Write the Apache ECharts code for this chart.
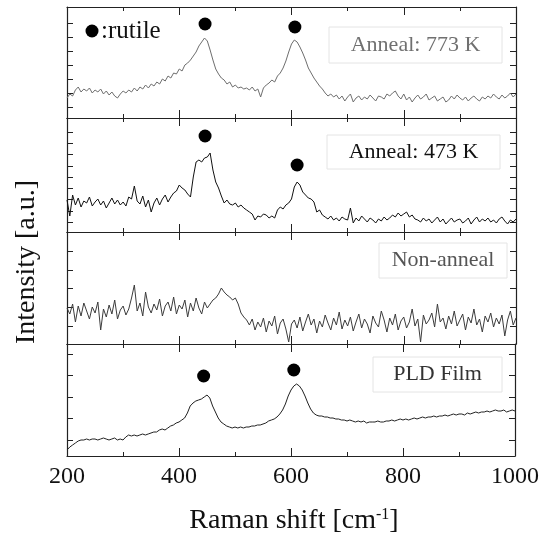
<!DOCTYPE html>
<html><head><meta charset="utf-8">
<script src="https://cdn.jsdelivr.net/npm/echarts@6/dist/echarts.min.js"></script>
<style>html,body{margin:0;padding:0;background:#fff}#c{width:542px;height:535px}</style>
</head><body><div id="c"></div>
<script>
// Raman shift grid (cm-1), sampled every 5 cm-1 from 200 to 1000
const wavenumbers = [];
for (let w = 200; w <= 1000; w += 5) wavenumbers.push(w);

// Intensities (a.u.), one value per wavenumber
const anneal773 = [
 20,24,22,28,31,26,29,27,30,25, 28,26,29,24,27,23,26,22,20,24,
 27,25,28,26,30,27,31,29,33,30, 34,32,36,34,39,37,42,40,45,44,
 49,47,53,55,58,62,66,72,76,80, 77,68,58,49,44,40,38,34,36,31,
 33,30,31,29,30,28,31,27,29,21, 30,33,35,38,36,42,45,50,57,66,
 74,78,76,71,65,58,50,45,40,36, 32,29,25,22,24,21,23,19,22,17,
 21,24,16,20,22,18,21,19,23,20, 17,22,21,19,24,22,25,27,22,19,
 24,18,21,16,20,23,19,21,24,18, 20,22,17,19,21,16,18,22,19,23,
 20,18,21,17,20,22,19,17,21,19, 22,20,24,21,19,23,20,22,25,21,
 24];
const anneal473 = [
 32,16,37,27,34,25,31,29,35,26, 30,33,27,31,24,29,34,28,32,27,
 30,26,35,33,46,31,28,36,25,32, 20,29,34,27,33,37,30,35,39,41,
 47,44,42,38,35,55,70,72,70,74, 75,79,62,50,44,36,29,32,28,27,
 29,25,27,24,22,20,18,12,16,15, 18,17,14,16,14,22,25,23,27,29,
 33,45,50,47,40,37,34,33,30,20, 22,17,15,13,16,12,14,11,15,13,
 12,24,9,14,11,16,13,10,14,12, 9,13,11,15,12,14,17,15,19,16,
 18,20,15,17,13,12,10,14,11,13, 9,12,15,10,13,8,11,14,10,12,
 13,9,11,14,8,12,15,10,13,11, 14,10,12,9,13,15,11,8,12,10,
 13];
const nonAnneal = [
 36,30,40,22,38,28,41,33,25,37, 31,42,14,35,27,39,30,44,25,34,
 38,29,35,46,59,33,41,28,52,37, 31,40,34,45,28,38,42,33,47,30,
 39,35,44,27,41,33,46,36,30,42, 36,40,44,46,50,56,52,49,47,44,
 46,40,31,27,24,19,25,14,22,17, 26,12,23,18,28,10,21,25,15,2,
 20,24,16,27,13,22,30,19,25,11, 23,17,29,21,14,26,19,32,15,24,
 18,27,13,22,30,16,25,20,11,28, 21,17,33,24,12,26,19,30,14,23,
 27,16,22,35,18,25,2,29,20,24, 31,17,40,22,26,15,28,20,33,18,
 24,30,14,27,21,35,19,25,12,28, 22,31,17,26,20,29,8,24,33,19,
 26];
const pldFilm = [
 6,9,11,13,15,16,16,17,16,17, 17,16,17,18,17,16,17,18,16,17,
 16,19,21,20,21,20,21,22,21,22, 23,24,24,26,27,26,28,30,31,33,
 34,36,38,43,50,53,55,56,57,59, 61,58,50,44,38,34,32,30,29,28,
 29,28,29,28,29,29,30,30,31,31, 32,33,35,36,37,39,42,46,52,60,
 66,70,72,70,66,60,53,47,43,41, 40,40,39,39,38,38,37,37,36,36,
 35,36,35,34,35,34,35,33,34,34, 34,35,34,34,35,35,36,35,36,37,
 36,37,36,37,38,37,38,39,38,39, 39,40,39,40,40,41,40,41,42,41,
 42,42,41,43,42,43,44,43,44,44, 45,44,45,46,45,45,46,44,45,46,
 45];

// rutile peak markers (wavenumber, intensity) per panel
const rutileX773 = [446, 606], rutileY773 = [94, 91];
const rutileX473 = [446, 610], rutileY473 = [96, 67];
const rutileXPLD = [444, 605], rutileYPLD = [80, 86];

// panel names and tick labels
const panelNames = ['Anneal: 773 K', 'Anneal: 473 K', 'Non-anneal', 'PLD Film'];
const xTickLabels = [200, 400, 600, 800, 1000];
// y tick positions (a.u.) per panel
const yTicks773 = [11, 25, 39, 53, 67, 81, 95];
const yTicks473 = [10, 21.25, 32.5, 43.75, 55, 66.25, 77.5, 88.75, 100];
const yTicksNon = [18, 37, 56, 74, 93];
const yTicksPLD = [16, 37.5, 59, 80.5, 102];

// ---- layout / style ----
const tops = [7, 118, 232, 344];
const heights = [111, 114, 112, 112];
const yMax = [111, 114, 112, 112];
const seriesData = [anneal773, anneal473, nonAnneal, pldFilm];
const lineColors = ['#6e6e6e', '#111111', '#3c3c3c', '#222222'];
const yTicksAll = [yTicks773, yTicks473, yTicksNon, yTicksPLD];
const dots = [[rutileX773, rutileY773], [rutileX473, rutileY473], null, [rutileXPLD, rutileYPLD]];
const serif = 'Liberation Serif';
const axisColor = '#222';

const grid = [], xAxis = [], yAxis = [], series = [];
for (let i = 0; i < 4; i++) {
  grid.push({left: 67, right: 26, top: tops[i], height: heights[i]});
  ['bottom', 'top'].forEach(pos => {
    xAxis.push({
      gridIndex: i, type: 'value', position: pos, min: 200, max: 1000, interval: 200,
      axisLine: {show: true, onZero: false, lineStyle: {color: axisColor, width: 1.2}},
      axisTick: {show: true, inside: true, length: 8, lineStyle: {color: axisColor, width: 1}},
      minorTick: {show: true, splitNumber: 2, length: 4, lineStyle: {color: axisColor, width: 1}},
      splitLine: {show: false}, minorSplitLine: {show: false},
      axisLabel: {
        show: i === 3 && pos === 'bottom', margin: 9, color: '#111',
        fontFamily: serif, fontSize: 24,
        customValues: xTickLabels,
        formatter: v => String(v)
      }
    });
  });
  ['left', 'right'].forEach(pos => {
    yAxis.push({
      gridIndex: i, type: 'value', position: pos, min: 0, max: yMax[i],
      axisLine: {show: true, onZero: false, lineStyle: {color: axisColor, width: 1.2}},
      axisTick: {show: true, inside: true, length: 6, customValues: yTicksAll[i], lineStyle: {color: axisColor, width: 1}},
      axisLabel: {show: false}, splitLine: {show: false}
    });
  });
  series.push({
    type: 'line', xAxisIndex: 2 * i, yAxisIndex: 2 * i,
    data: wavenumbers.map((w, k) => [w, seriesData[i][k]]),
    showSymbol: false, symbol: 'none', animation: false,
    lineStyle: {color: lineColors[i], width: 1}
  });
  if (dots[i]) {
    series.push({
      type: 'scatter', xAxisIndex: 2 * i, yAxisIndex: 2 * i, symbolSize: 13,
      itemStyle: {color: '#000', opacity: 1}, animation: false, z: 5,
      data: dots[i][0].map((x, k) => [x, dots[i][1][k]])
    });
  }
}

const boxes = [
  {x: 329, y: 27, w: 173, h: 36, color: '#707070'},
  {x: 327, y: 135, w: 173, h: 34, color: '#111111'},
  {x: 379, y: 243, w: 128, h: 35, color: '#555555'},
  {x: 373, y: 357, w: 129, h: 35, color: '#333333'}
];
const graphic = [];
boxes.forEach((b, i) => {
  graphic.push({type: 'rect', z: 50, shape: {x: b.x, y: b.y, width: b.w, height: b.h},
    style: {fill: '#fff', stroke: '#e4e4e4', lineWidth: 1}});
  graphic.push({type: 'text', z: 51, x: b.x + b.w / 2, y: b.y + b.h / 2,
    style: {text: panelNames[i], fill: b.color, font: '22px "' + serif + '"', align: 'center', verticalAlign: 'middle'}});
});
graphic.push({type: 'circle', z: 51, shape: {cx: 92, cy: 31, r: 6.5}, style: {fill: '#000'}});
graphic.push({type: 'text', z: 51, x: 101, y: 31,
  style: {text: ':rutile', fill: '#111', font: '25px "' + serif + '"', align: 'left', verticalAlign: 'middle'}});
graphic.push({type: 'text', z: 51, x: 27, y: 262, rotation: Math.PI / 2,
  style: {text: 'Intensity [a.u.]', fill: '#111', font: '28px "' + serif + '"', align: 'center', verticalAlign: 'middle'}});
graphic.push({type: 'text', z: 51, x: 294, y: 521,
  style: {text: 'Raman shift [cm{sup|-1}]', fill: '#111', font: '28px "' + serif + '"', align: 'center', verticalAlign: 'middle',
    rich: {sup: {fontSize: 16, fontFamily: serif, fill: '#111', verticalAlign: 'top', lineHeight: 28, padding: [0, 0, 10, 0]}}}});

const chart = echarts.init(document.getElementById('c'), null, {renderer: 'canvas'});
chart.setOption({animation: false, backgroundColor: '#fff', grid, xAxis, yAxis, series, graphic});
</script></body></html>
